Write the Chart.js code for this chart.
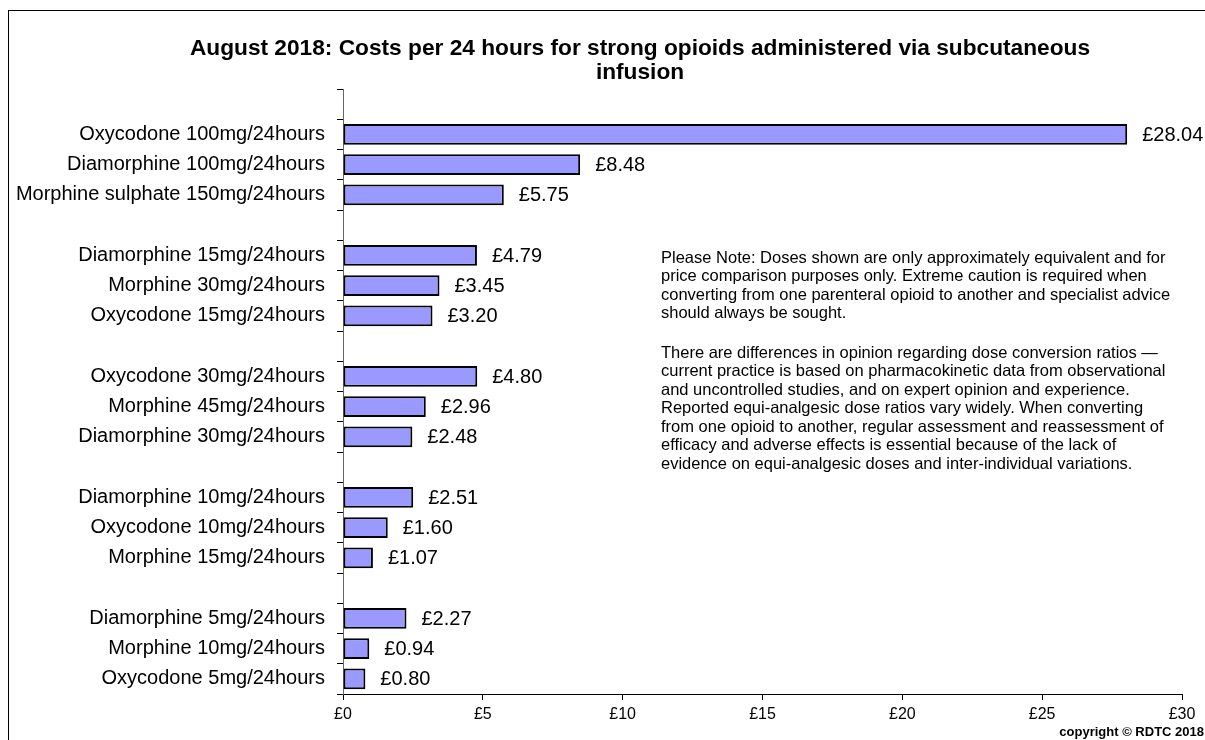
<!DOCTYPE html>
<html>
<head>
<meta charset="utf-8">
<script src="https://cdn.jsdelivr.net/npm/chart.js@4.4.1/dist/chart.umd.min.js"></script>
<style>
  html, body { margin: 0; padding: 0; background: #fff; overflow: hidden; }
  body { width: 1205px; height: 740px; position: relative; font-family: "Liberation Sans", Arial, sans-serif; color: #000; }
  #frame { position: absolute; left: 8px; top: 10px; width: 1300px; height: 800px; border: 1px solid #000; }
  #chart { position: absolute; left: 0; top: 0; }
  #title { position: absolute; left: 140px; width: 1000px; top: 35px; text-align: center; font-weight: bold; font-size: 22.7px; line-height: 24px; }
  #note { position: absolute; left: 661px; top: 247.75px; font-size: 16.5px; line-height: 18.5px; }
  #note p { margin: 0 0 21px 0; }
  #copy { position: absolute; right: 1px; top: 724px; font-weight: bold; font-size: 13px; }
</style>
</head>
<body>
<div id="frame"></div>
<canvas id="chart" width="1205" height="740"></canvas>
<div id="title">August 2018: Costs per 24 hours for strong opioids administered via subcutaneous<br>infusion</div>
<div id="note">
  <p>Please Note: Doses shown are only approximately equivalent and for<br>price comparison purposes only. Extreme caution is required when<br>converting from one parenteral opioid to another and specialist advice<br>should always be sought.</p>
  <p>There are differences in opinion regarding dose conversion ratios &mdash;<br>current practice is based on pharmacokinetic data from observational<br>and uncontrolled studies, and on expert opinion and experience.<br>Reported equi-analgesic dose ratios vary widely. When converting<br>from one opioid to another, regular assessment and reassessment of<br>efficacy and adverse effects is essential because of the lack of<br>evidence on equi-analgesic doses and inter-individual variations.</p>
</div>
<div id="copy">copyright &copy; RDTC 2018</div>
<script>
// empty strings / nulls are the spacer rows between the dose groups
const drugs = [
    '',
    'Oxycodone 100mg/24hours', 'Diamorphine 100mg/24hours', 'Morphine sulphate 150mg/24hours',
    '',
    'Diamorphine 15mg/24hours', 'Morphine 30mg/24hours', 'Oxycodone 15mg/24hours',
    '',
    'Oxycodone 30mg/24hours', 'Morphine 45mg/24hours', 'Diamorphine 30mg/24hours',
    '',
    'Diamorphine 10mg/24hours', 'Oxycodone 10mg/24hours', 'Morphine 15mg/24hours',
    '',
    'Diamorphine 5mg/24hours', 'Morphine 10mg/24hours', 'Oxycodone 5mg/24hours'
];
const costs = [
    null, 28.04, 8.48, 5.75,
    null, 4.79, 3.45, 3.20,
    null, 4.80, 2.96, 2.48,
    null, 2.51, 1.60, 1.07,
    null, 2.27, 0.94, 0.80
];
const xTicks = [0, 5, 10, 15, 20, 25, 30];

const FONT = '"Liberation Sans", Arial, sans-serif';

const valueLabels = {
    id: 'valueLabels',
    afterDatasetsDraw(chart) {
        const ctx = chart.ctx;
        const meta = chart.getDatasetMeta(0);
        ctx.save();
        ctx.font = '20px ' + FONT;
        ctx.fillStyle = '#000';
        ctx.textAlign = 'left';
        ctx.textBaseline = 'middle';
        meta.data.forEach(function (bar, i) {
            const v = costs[i];
            if (v === null) return;
            ctx.fillText('£' + v.toFixed(2), bar.x + 15, bar.y + 1);
        });
        ctx.restore();
    }
};

new Chart(document.getElementById('chart').getContext('2d'), {
    type: 'bar',
    data: {
        labels: drugs,
        datasets: [{
            data: costs,
            backgroundColor: '#9999FF',
            borderColor: '#000',
            borderWidth: 2,
            borderSkipped: false,
            barPercentage: 0.68,
            categoryPercentage: 1.0
        }]
    },
    options: {
        indexAxis: 'y',
        responsive: false,
        animation: false,
        devicePixelRatio: 1,
        layout: { padding: { left: 8, right: 23, top: 89, bottom: 16 } },
        plugins: {
            legend: { display: false },
            title: { display: false },
            tooltip: { enabled: false }
        },
        scales: {
            x: {
                min: 0,
                max: 30,
                afterBuildTicks(scale) { scale.ticks = xTicks.map(v => ({ value: v })); },
                afterFit(scale) { scale.height = 30; },
                grid: { drawOnChartArea: false, drawTicks: true, tickLength: 6, color: '#000' },
                border: { color: '#000', width: 1 },
                ticks: {
                    padding: 5,
                    color: '#000',
                    font: { family: FONT, size: 16 },
                    callback: v => '£' + v
                }
            },
            y: {
                afterFit(scale) { scale.width = 335; },
                grid: { drawOnChartArea: false, drawTicks: true, tickLength: 6, color: '#000', offset: true },
                border: { color: '#666', width: 1 },
                ticks: {
                    autoSkip: false,
                    padding: 12,
                    color: '#000',
                    font: { family: FONT, size: 20 }
                }
            }
        }
    },
    plugins: [valueLabels]
});
</script>
</body>
</html>
